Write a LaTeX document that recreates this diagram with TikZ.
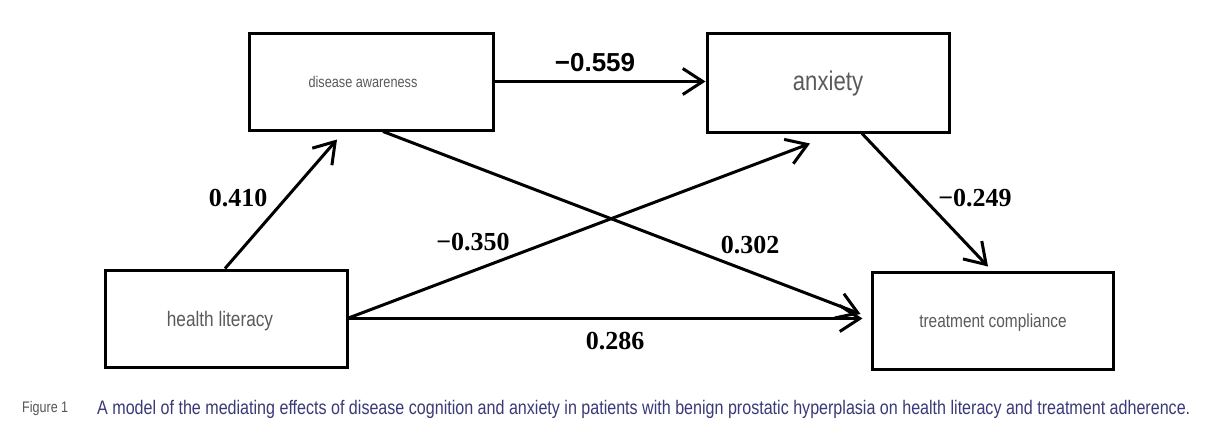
\documentclass[tikz,border=0pt]{standalone}
\usepackage{fontspec}
\usepackage{graphicx}
\setmainfont{Liberation Serif}
\newfontfamily\boxfont[FakeStretch=0.82]{Liberation Sans}
\newfontfamily\numsans{Liberation Sans}
\usetikzlibrary{arrows.meta,calc}
\definecolor{boxtext}{HTML}{5A5A5A}
\definecolor{capnavy}{HTML}{3A3A78}
\definecolor{capgray}{HTML}{555555}
\begin{document}
\begin{tikzpicture}[x=1pt,y=-1pt,
  varbox/.style={draw=black,line width=3pt,rectangle,inner sep=0pt,
    text=boxtext,font=\boxfont},
  path/.style={line width=3pt,-{Straight Barb[length=20pt,width=26pt,line width=3pt]}},
  coef/.style={font=\fontsize{26}{28}\selectfont\bfseries,text=black,inner sep=0pt}]
\useasboundingbox[fill=white] (0,0) rectangle (1208,421);
% boxes
\node[varbox,minimum width=244pt,minimum height=97pt] (da) at (371,81.5) {};
\node[varbox,minimum width=242pt,minimum height=99pt] (anx) at (828,82.5) {};
\node[varbox,minimum width=242pt,minimum height=97pt] (hl) at (226,318.5) {};
\node[varbox,minimum width=241pt,minimum height=97pt] (tc) at (992.5,320.5) {};
% box texts
\node[text=boxtext,font=\boxfont\fontsize{15.5}{17}\selectfont,inner sep=0pt] (tda) at (363,82) {disease awareness};
\node[text=boxtext,font=\boxfont\fontsize{27}{29}\selectfont,inner sep=0pt] (tanx) at (828,84) {anxiety};
\node[text=boxtext,font=\boxfont\fontsize{21}{23}\selectfont,inner sep=0pt] (thl) at (220,321) {health literacy};
\node[text=boxtext,font=\boxfont\fontsize{18.8}{20}\selectfont,inner sep=0pt] (ttc) at (993,323) {treatment compliance};
% paths
\draw[path] ([xshift=-1pt]hl.north) -- ([xshift=-34pt,yshift=-8pt]da.south);
\draw[path] (da.east) -- (da.east -| anx.west);
\draw[path] ([xshift=12pt]da.south) -- ([xshift=-10pt,yshift=6.5pt]tc.west);
\draw[path] ([yshift=0.5pt]hl.east) -- ([xshift=-18pt,yshift=-10pt]anx.south);
\draw[path] (hl.east) -- ($(hl.east -| tc.west)+(-8pt,0)$);
\draw[path] ([xshift=34pt]anx.south) -- ([xshift=-4.5pt,yshift=4pt]tc.north);
% coefficients
\node[coef,font=\numsans\fontsize{26}{28}\selectfont\bfseries] (c1) at (595,63) {−0.559};
\node[coef] (c2) at (238,198) {0.410};
\node[coef] (c3) at (975,198) {−0.249};
\node[coef] (c4) at (473,242) {−0.350};
\node[coef] (c5) at (750,245) {0.302};
\node[coef] (c6) at (615,341) {0.286};
% caption
\node[anchor=west,inner sep=0pt,text=capgray,font=\boxfont] (fig) at (22,409) {\resizebox{46pt}{!}{Figure 1}};
\node[anchor=west,inner sep=0pt,text=capnavy,font=\boxfont] (cap) at (97,409) {\resizebox{1093pt}{!}{A model of the mediating effects of disease cognition and anxiety in patients with benign prostatic hyperplasia on health literacy and treatment adherence.}};
\end{tikzpicture}
\end{document}
